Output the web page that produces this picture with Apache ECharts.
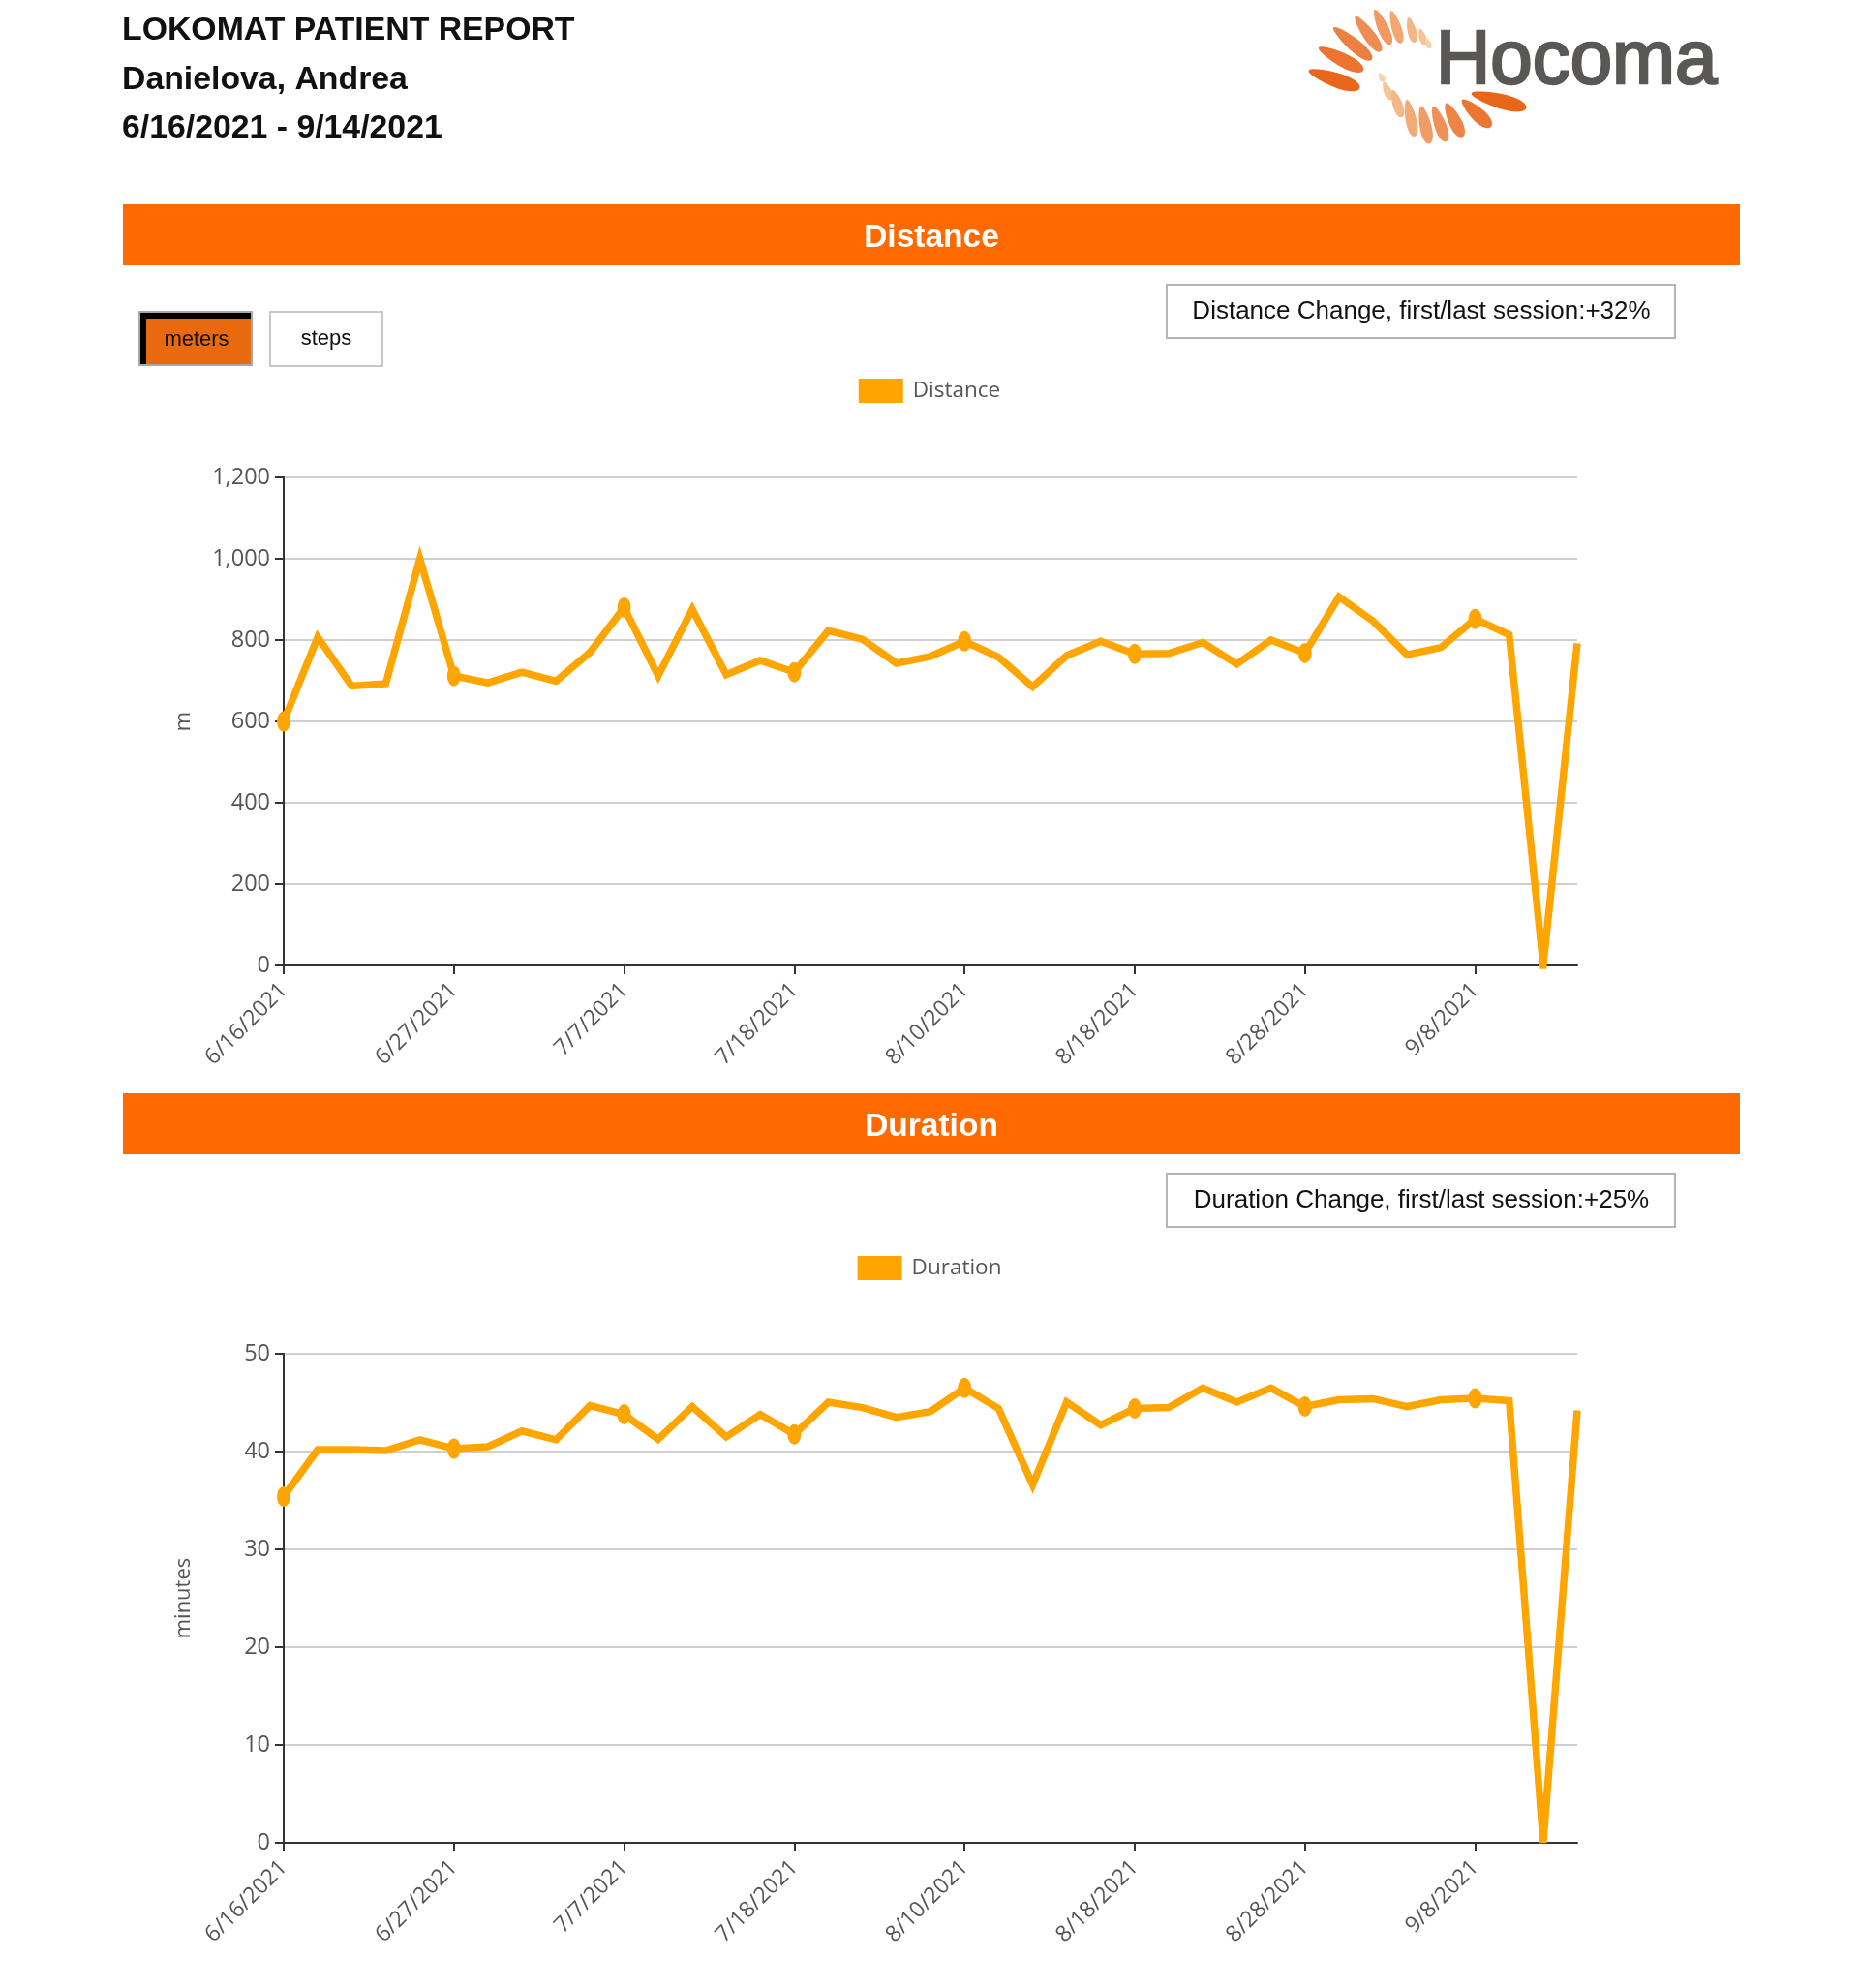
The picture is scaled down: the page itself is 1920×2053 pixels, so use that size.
<!DOCTYPE html>
<html>
<head>
<meta charset="utf-8">
<script src="https://cdn.jsdelivr.net/npm/echarts@6/dist/echarts.min.js"></script>
<style>
html,body{margin:0;padding:0;background:#fff;}
#chart{width:1920px;height:2053px;}
</style>
</head>
<body>
<div id="chart"></div>
<script>
// ---------------- data ----------------
const sessionDates = [
  '6/16/2021','6/17/2021','6/21/2021','6/22/2021','6/24/2021',
  '6/27/2021','6/28/2021','6/29/2021','6/30/2021','7/1/2021',
  '7/7/2021','7/8/2021','7/12/2021','7/13/2021','7/15/2021',
  '7/18/2021','7/19/2021','7/20/2021','7/22/2021','8/9/2021',
  '8/10/2021','8/11/2021','8/12/2021','8/16/2021','8/17/2021',
  '8/18/2021','8/19/2021','8/23/2021','8/24/2021','8/26/2021',
  '8/28/2021','8/30/2021','8/31/2021','9/1/2021','9/6/2021',
  '9/8/2021','9/9/2021','9/13/2021','9/14/2021'
];
const distanceMeters = [
  600, 807, 687, 693, 1000,
  712, 695, 721, 699, 770,
  880, 712, 876, 715, 750,
  721, 823, 802, 743, 760,
  797, 758, 685, 762, 797,
  766, 767, 794, 741, 800,
  768, 906, 847, 764, 782,
  852, 813, 0, 792
];
const durationMinutes = [
  35.4, 40.2, 40.2, 40.1, 41.2,
  40.3, 40.5, 42.1, 41.2, 44.7,
  43.8, 41.25, 44.6, 41.5, 43.8,
  41.75, 45.05, 44.5, 43.5, 44.1,
  46.5, 44.4, 36.6, 45.05, 42.7,
  44.4, 44.5, 46.5, 45.05, 46.5,
  44.6, 45.3, 45.4, 44.6, 45.3,
  45.45, 45.2, 0, 44.2
];
const distanceAxis = {min: 0, max: 1200, interval: 200, name: 'm'};
const durationAxis = {min: 0, max: 50, interval: 10, name: 'minutes'};
const distanceChangeText = 'Distance Change, first/last session:+32%';
const durationChangeText = 'Duration Change, first/last session:+25%';
const headerLines = ['LOKOMAT PATIENT REPORT', 'Danielova, Andrea', '6/16/2021 - 9/14/2021'];

// ---------------- styling ----------------
const LINE_COLOR = '#FFA500';
const BAR_COLOR = '#ff6900';
const AX_FONT = 'Open Sans';

function xAxisCfg(gridIndex) {
  return {
    type: 'category', gridIndex: gridIndex, data: sessionDates, boundaryGap: false,
    axisLine: {lineStyle: {color: '#333', width: 2}},
    axisTick: {interval: 4, length: 9, lineStyle: {color: '#333', width: 2}},
    axisLabel: {interval: 4, rotate: 45, margin: 22, color: '#555', fontSize: 23, fontFamily: AX_FONT},
    splitLine: {show: false}
  };
}
function yAxisCfg(gridIndex, ax) {
  return {
    type: 'value', gridIndex: gridIndex, min: ax.min, max: ax.max, interval: ax.interval,
    name: ax.name, nameLocation: 'middle', nameGap: 92, nameRotate: 90,
    nameTextStyle: {color: '#555', fontSize: 22, fontFamily: AX_FONT},
    axisLine: {show: true, lineStyle: {color: '#333', width: 2}},
    axisTick: {show: true, length: 9, lineStyle: {color: '#333', width: 2}},
    axisLabel: {color: '#555', fontSize: 23.5, fontFamily: AX_FONT, margin: 14,
      formatter: v => v.toLocaleString('en-US')},
    splitLine: {lineStyle: {color: '#cfcfcf', width: 2}}
  };
}
function seriesCfg(name, idx, data) {
  return {
    name: name, type: 'line', xAxisIndex: idx, yAxisIndex: idx, data: data,
    showSymbol: true, showAllSymbol: true, symbol: 'circle',
    symbolSize: (v, p) => (p.dataIndex % 5 === 0 ? [14, 21] : 0),
    itemStyle: {color: LINE_COLOR},
    lineStyle: {color: LINE_COLOR, width: 7.5, join: 'miter'},
    emphasis: {disabled: true}, animation: false
  };
}

// ---------------- logo petals (decorative) ----------------
const petals = [
  // cx, cy, length, width, angle(deg), color
  [1378, 82, 56, 15, 19, '#E8671C'],
  [1385, 61, 52, 14, 27, '#EA7430'],
  [1397, 45, 52, 13, 40, '#EC8040'],
  [1413, 35, 45, 12, 54, '#EE8C52'],
  [1428, 28, 40, 11, 66, '#F09A62'],
  [1442, 28, 35, 10, 73, '#F2A670'],
  [1458, 31, 27, 9, 76, '#F4B686'],
  [1469, 38, 17, 7, 73, '#F6C398'],
  [1475, 45, 11, 6, 70, '#F8CFAA'],
  [1427, 80, 10, 6, 60, '#F8D2B0'],
  [1433, 94, 20, 8, 68, '#F6C598'],
  [1443, 107, 30, 10, 71, '#F4B888'],
  [1457, 122, 39, 11, 78, '#F2AA76'],
  [1472, 129, 40, 12, 78, '#F09C66'],
  [1487, 128, 39, 12, 70, '#EE9058'],
  [1502, 124, 39, 13, 64, '#EC8446'],
  [1525, 117, 41, 14, 43, '#EA7632'],
  [1548, 104, 59, 15, 15, '#E8661A']
];
function petalPoints(cx, cy, L, W, angDeg) {
  const a = angDeg * Math.PI / 180, ca = Math.cos(a), sa = Math.sin(a);
  const pts = [];
  for (let i = 0; i < 24; i++) {
    const t = i / 24 * Math.PI * 2;
    const u = L / 2 * Math.cos(t);
    const v = W / 2 * Math.sin(t) * (1 + 0.25 * Math.cos(t));
    pts.push([cx + u * ca - v * sa, cy + u * sa + v * ca]);
  }
  return pts;
}

const graphics = [];
// header
headerLines.forEach((t, i) => {
  graphics.push({type: 'text', style: {text: t, x: 126, y: [31.5, 82.5, 132.5][i], textVerticalAlign: 'middle',
    font: 'bold 33.8px "Liberation Sans", Arial, sans-serif', fill: '#111'}});
});
// logo
petals.forEach(p => {
  graphics.push({type: 'polygon', shape: {points: petalPoints(p[0], p[1], p[2], p[3], p[4])},
    style: {fill: p[5]}});
});
graphics.push({type: 'text', style: {text: 'Hocoma', x: 1483, y: 64, textVerticalAlign: 'middle',
  font: '78px "Liberation Sans", Arial, sans-serif', fill: '#595856', stroke: '#595856', lineWidth: 2.5}});
// section bars
[[211, 'Distance'], [1129, 'Duration']].forEach(b => {
  graphics.push({type: 'rect', shape: {x: 127, y: b[0], width: 1670, height: 63}, style: {fill: BAR_COLOR}});
  graphics.push({type: 'text', style: {text: b[1], x: 962, y: b[0] + 35, textAlign: 'center', textVerticalAlign: 'middle',
    font: 'bold 33.5px "Liberation Sans", Arial, sans-serif', fill: '#fff'}});
});
// unit buttons
graphics.push({type: 'rect', shape: {x: 144, y: 322, width: 116, height: 55}, style: {fill: '#e8690e', stroke: '#a8a8a8', lineWidth: 2}});
graphics.push({type: 'rect', shape: {x: 145, y: 323, width: 114, height: 6}, style: {fill: '#000'}});
graphics.push({type: 'rect', shape: {x: 145, y: 323, width: 6, height: 53}, style: {fill: '#000'}});
graphics.push({type: 'text', style: {text: 'meters', x: 203, y: 351, textAlign: 'center', textVerticalAlign: 'middle',
  font: '22px "Liberation Sans", Arial, sans-serif', fill: '#111'}});
graphics.push({type: 'rect', shape: {x: 279, y: 322, width: 116, height: 56}, style: {fill: '#fff', stroke: '#c8c8c8', lineWidth: 2}});
graphics.push({type: 'text', style: {text: 'steps', x: 337, y: 350, textAlign: 'center', textVerticalAlign: 'middle',
  font: '22px "Liberation Sans", Arial, sans-serif', fill: '#111'}});
// change boxes
[[294, distanceChangeText], [1212, durationChangeText]].forEach(b => {
  graphics.push({type: 'rect', shape: {x: 1205, y: b[0], width: 525, height: 55},
    style: {fill: '#fff', stroke: '#b4b4b4', lineWidth: 2}});
  graphics.push({type: 'text', style: {text: b[1], x: 1468, y: b[0] + 28, textAlign: 'center', textVerticalAlign: 'middle',
    font: '26px "Liberation Sans", Arial, sans-serif', fill: '#111'}});
});

const chart = echarts.init(document.getElementById('chart'), null, {renderer: 'canvas'});
chart.setOption({
  backgroundColor: '#fff',
  animation: false,
  graphic: graphics,
  legend: [
    {data: ['Distance'], left: 'center', top: 386, icon: 'rect', itemWidth: 46, itemHeight: 25, itemGap: 10,
      textStyle: {color: '#555', fontSize: 22.5, fontFamily: AX_FONT, padding: [0, 0, 0, 5]}, selectedMode: false},
    {data: ['Duration'], left: 'center', top: 1292, icon: 'rect', itemWidth: 46, itemHeight: 25, itemGap: 10,
      textStyle: {color: '#555', fontSize: 22.5, fontFamily: AX_FONT, padding: [0, 0, 0, 5]}, selectedMode: false}
  ],
  grid: [
    {left: 293, width: 1336, top: 493, height: 504},
    {left: 293, width: 1336, top: 1398, height: 505}
  ],
  xAxis: [xAxisCfg(0), xAxisCfg(1)],
  yAxis: [yAxisCfg(0, distanceAxis), yAxisCfg(1, durationAxis)],
  series: [seriesCfg('Distance', 0, distanceMeters), seriesCfg('Duration', 1, durationMinutes)]
});
</script>
</body>
</html>
